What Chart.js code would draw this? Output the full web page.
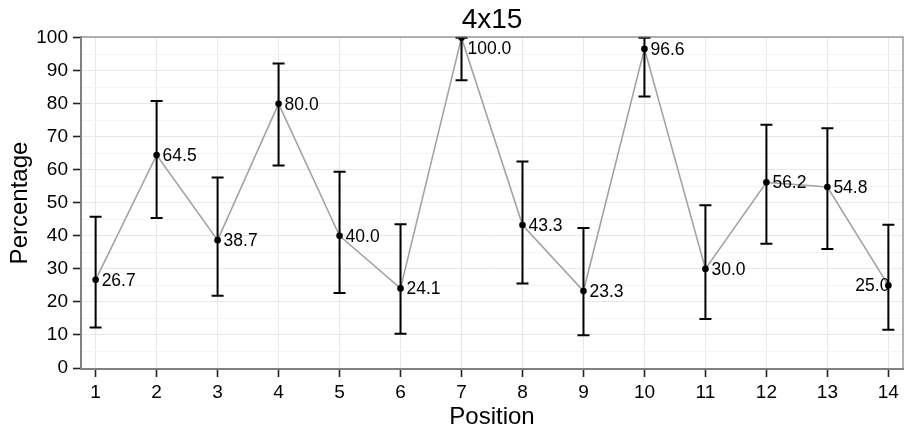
<!DOCTYPE html>
<html lang="en">
<head>
<meta charset="UTF-8">
<title>4x15</title>
<script src="https://cdn.jsdelivr.net/npm/chart.js"></script>
<style>
  html, body { margin: 0; padding: 0; background: #ffffff; }
</style>
</head>
<body>
<canvas id="chart" width="908" height="429"></canvas>
<script>
// values
const positions = [1, 2, 3, 4, 5, 6, 7, 8, 9, 10, 11, 12, 13, 14];
const percentages = [26.7, 64.5, 38.7, 80.0, 40.0, 24.1, 100.0, 43.3, 23.3, 96.6, 30.0, 56.2, 54.8, 25.0];
const lowerBounds = [12.3, 45.4, 21.9, 61.3, 22.7, 10.4, 87.1, 25.6, 9.9, 82.2, 14.8, 37.6, 36.0, 11.6];
const upperBounds = [45.8, 80.8, 57.7, 92.2, 59.4, 43.5, 100.0, 62.5, 42.4, 100.0, 49.3, 73.6, 72.6, 43.4];
const yTicks = [0, 5, 10, 15, 20, 25, 30, 35, 40, 45, 50, 55, 60, 65, 70, 75, 80, 85, 90, 95, 100];

const FONT = "'Liberation Sans', Arial, Helvetica, sans-serif";

// error bars, value labels, panel border and titles
const extras = {
    id: 'extras',
    afterDatasetsDraw(chart) {
        const ctx = chart.ctx;
        const xs = chart.scales.x, ys = chart.scales.y;
        const area = chart.chartArea;

        ctx.save();
        // points (clipped to the panel like the original)
        ctx.save();
        ctx.beginPath();
        ctx.rect(area.left, area.top + 1, area.right - area.left, area.bottom - area.top);
        ctx.clip();
        ctx.fillStyle = '#000';
        positions.forEach((p, i) => {
            ctx.beginPath();
            ctx.arc(xs.getPixelForValue(p), ys.getPixelForValue(percentages[i]), 3.3, 0, Math.PI * 2);
            ctx.fill();
        });
        ctx.restore();

        // error bars
        ctx.strokeStyle = '#000';
        ctx.lineWidth = 2;
        positions.forEach((p, i) => {
            const x = xs.getPixelForValue(p);
            const y1 = ys.getPixelForValue(lowerBounds[i]);
            const y2 = ys.getPixelForValue(upperBounds[i]);
            ctx.beginPath();
            ctx.moveTo(x, y1); ctx.lineTo(x, y2);
            ctx.moveTo(x - 6, y1); ctx.lineTo(x + 6, y1);
            ctx.moveTo(x - 6, y2); ctx.lineTo(x + 6, y2);
            ctx.stroke();
        });

        // value labels
        ctx.fillStyle = '#000';
        ctx.font = '17.5px ' + FONT;
        ctx.textBaseline = 'middle';
        positions.forEach((p, i) => {
            const txt = percentages[i].toFixed(1);
            const x = xs.getPixelForValue(p);
            let y = ys.getPixelForValue(percentages[i]);
            y = Math.max(y, area.top + 11);
            const w = ctx.measureText(txt).width;
            if (x + 7 + w > area.right) {
                ctx.textAlign = 'right';
                ctx.fillText(txt, x + 1, y + 1);
            } else {
                ctx.textAlign = 'left';
                ctx.fillText(txt, x + 6, y + 1);
            }
        });

        // panel border
        ctx.strokeStyle = '#808080';
        ctx.lineWidth = 1.2;
        ctx.strokeRect(area.left, area.top, area.right - area.left, area.bottom - area.top);

        // titles
        ctx.fillStyle = '#000';
        ctx.textAlign = 'center';
        ctx.textBaseline = 'alphabetic';
        const cx = (area.left + area.right) / 2;
        ctx.font = '28px ' + FONT;
        ctx.fillText('4x15', cx, 28);
        ctx.font = '24px ' + FONT;
        ctx.fillText('Position', cx, 424);
        ctx.translate(27, (area.top + area.bottom) / 2);
        ctx.rotate(-Math.PI / 2);
        ctx.fillText('Percentage', 0, 0);
        ctx.restore();
    }
};

new Chart(document.getElementById('chart').getContext('2d'), {
    type: 'line',
    data: {
        datasets: [{
            data: positions.map((p, i) => ({ x: p, y: percentages[i] })),
            borderColor: '#a3a3a3',
            borderWidth: 1.6,
            pointRadius: 0,
            tension: 0,
            fill: false
        }]
    },
    options: {
        responsive: false,
        animation: false,
        layout: { padding: { left: 0, right: 5, top: 37, bottom: 0 } },
        plugins: {
            legend: { display: false },
            tooltip: { enabled: false },
            title: { display: false }
        },
        scales: {
            x: {
                type: 'linear',
                min: 0.76,
                max: 14.24,
                afterBuildTicks: axis => { axis.ticks = positions.map(v => ({ value: v })); },
                afterFit: axis => { axis.height = 60; },
                ticks: {
                    autoSkip: false,
                    maxRotation: 0,
                    padding: 4,
                    color: '#000',
                    font: { family: FONT, size: 19 },
                    callback: v => String(v)
                },
                grid: {
                    color: '#e8e8e8',
                    lineWidth: 1,
                    tickLength: 8,
                    tickColor: '#222',
                    tickWidth: 1.6
                },
                border: { display: true, color: '#808080', width: 2 }
            },
            y: {
                type: 'linear',
                min: -0.3,
                max: 100.2,
                afterBuildTicks: axis => { axis.ticks = yTicks.map(v => ({ value: v })); },
                afterFit: axis => { axis.width = 81; },
                ticks: {
                    autoSkip: false,
                    padding: 5,
                    color: '#000',
                    font: { family: FONT, size: 19 },
                    callback: v => (v % 10 === 0 ? String(v) : '')
                },
                grid: {
                    color: c => (c.tick && c.tick.value % 10 !== 0 ? '#f4f4f4' : '#e8e8e8'),
                    lineWidth: 1,
                    tickLength: 8,
                    tickColor: c => (c.tick && c.tick.value % 10 !== 0 ? 'rgba(0,0,0,0)' : '#222'),
                    tickWidth: 1.6
                },
                border: { display: true, color: '#808080', width: 2 }
            }
        }
    },
    plugins: [extras]
});
</script>
</body>
</html>
